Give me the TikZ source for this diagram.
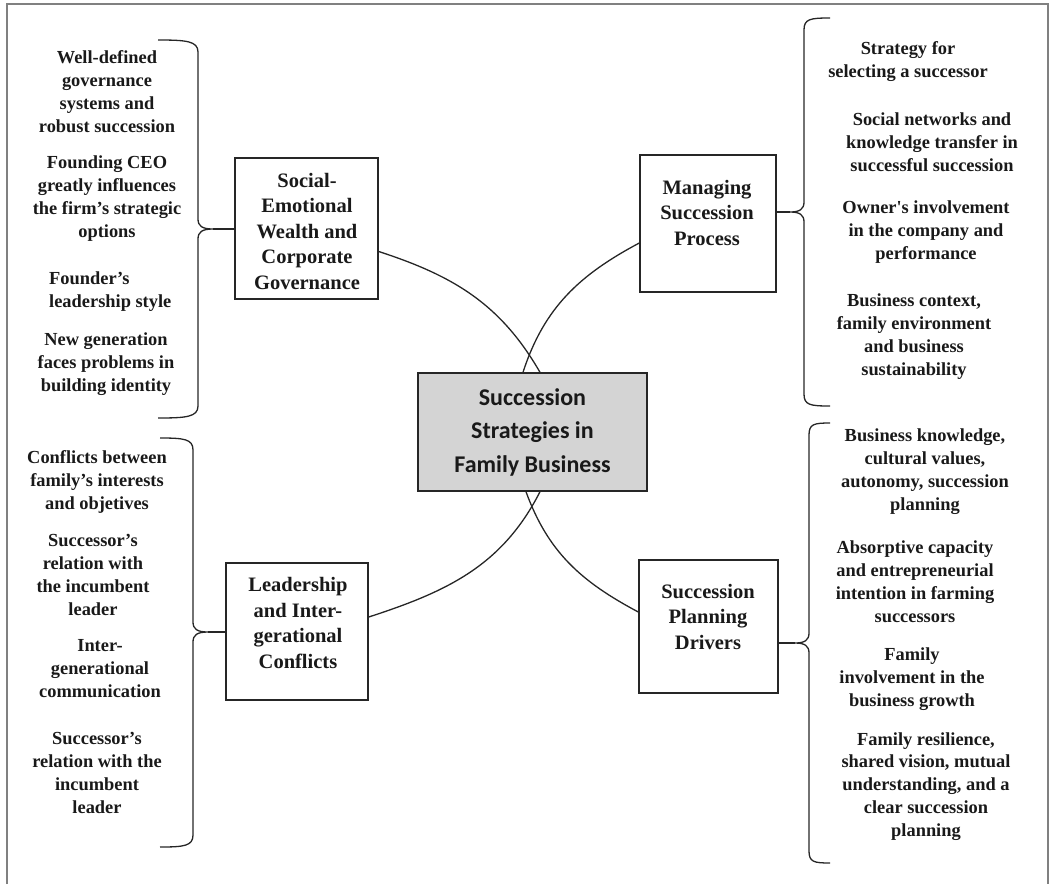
\documentclass[tikz,border=0pt]{standalone}
\usepackage{fontspec}
\setmainfont{Liberation Serif}
\newfontfamily\ctrfont{Carlito}
\begin{document}
\begin{tikzpicture}[x=1pt,y=1pt,
  item/.style={align=center, font=\fontsize{18.4}{22.7}\selectfont\bfseries, text=black!90, inner sep=0pt, anchor=base},
  itemleft/.style={item, align=left, anchor=base west},
  boxtext/.style={align=center, font=\fontsize{20.5}{25.5}\selectfont\bfseries, text=black!90, inner sep=0pt, anchor=base},
  box/.style={draw=black!85, line width=1.4pt, fill=white, inner sep=0pt},
  ctrbox/.style={draw=black!85, line width=1.4pt, fill=black!17, inner sep=0pt, align=center,
    font=\ctrfont\fontsize{24}{33.5}\selectfont\bfseries, text=black!90},
  link/.style={draw=black!85, line width=1.3pt},
  bracestyle/.style={draw=black!85, line width=1.3pt},
  frame/.style={draw=black!50, line width=1.6pt}]
\useasboundingbox (0,0) rectangle (1050,-884);
\draw[frame] (7,-884) -- (7,-4) -- (1048,-4) -- (1048,-884);

% central box
\node[ctrbox, minimum width=229pt, minimum height=118pt] (ctr) at (532.5,-432) {Succession\\Strategies in\\Family Business};

% four boxes (multi-line texts are placed by the baseline of their last line)
\node[box, minimum width=143pt, minimum height=141pt] (sew) at (306.5,-228.5) {};
\node[boxtext] (sewt) at (307,-289) {Social-\\Emotional\\Wealth and\\Corporate\\Governance};
\node[box, minimum width=136pt, minimum height=137pt] (msp) at (708,-223.5) {};
\node[boxtext] (mspt) at (707,-245) {Managing\\Succession\\Process};
\node[box, minimum width=142pt, minimum height=137pt] (lic) at (297,-631.5) {};
\node[boxtext] (lict) at (298,-668) {Leadership\\and Inter-\\gerational\\Conflicts};
\node[box, minimum width=139pt, minimum height=133pt] (spd) at (708.5,-626.5) {};
\node[boxtext] (spdt) at (708,-649) {Succession\\Planning\\Drivers};

% curved connectors
\draw[link] ([yshift=-23pt]sew.east) to[out=-18,in=120] ([xshift=7.5pt]ctr.north);
\draw[link] ([yshift=-19.5pt]msp.west) to[out=208,in=72] ([xshift=-9.5pt]ctr.north);
\draw[link] ([yshift=14.5pt]lic.east) to[out=18,in=-117] ([xshift=7.5pt]ctr.south);
\draw[link] ([yshift=14.5pt]spd.west) to[out=152,in=-70] ([xshift=-6.5pt]ctr.south);

% braces
\coordinate (sewtip) at (213,-229);
\draw[bracestyle] (158,-40) .. controls (186,-40) and (198,-41) .. (198,-52) -- (198,-219)
  .. controls (198,-226) and (202,-229) .. (sewtip)
  .. controls (202,-229) and (198,-232) .. (198,-239) -- (198,-406)
  .. controls (198,-417) and (186,-418) .. (158,-418);
\draw[link] (sewtip) -- (sewtip -| sew.west);

\coordinate (msptip) at (790,-212);
\draw[bracestyle] (830,-18) .. controls (810,-18) and (804,-19) .. (804,-30) -- (804,-202)
  .. controls (804,-209) and (800,-212) .. (msptip)
  .. controls (800,-212) and (804,-215) .. (804,-222) -- (804,-394)
  .. controls (804,-405) and (810,-406) .. (830,-406);
\draw[link] (msptip) -- (msptip -| msp.east);

\coordinate (lictip) at (208,-632);
\draw[bracestyle] (160,-438) .. controls (184,-438) and (193,-439) .. (193,-450) -- (193,-622)
  .. controls (193,-629) and (197,-632) .. (lictip)
  .. controls (197,-632) and (193,-635) .. (193,-642) -- (193,-835)
  .. controls (193,-846) and (184,-847) .. (160,-847);
\draw[link] (lictip) -- (lictip -| lic.west);

\coordinate (spdtip) at (795,-643);
\draw[bracestyle] (830,-423) .. controls (814,-423) and (809,-424) .. (809,-435) -- (809,-633)
  .. controls (809,-640) and (805,-643) .. (spdtip)
  .. controls (805,-643) and (809,-646) .. (809,-653) -- (809,-851)
  .. controls (809,-862) and (814,-863) .. (830,-863);
\draw[link] (spdtip) -- (spdtip -| spd.east);

% items: social-emotional wealth
\node[item] (a1) at (107,-132) {Well-defined\\governance\\systems and\\robust succession};
\node[item] (a2) at (107,-237) {Founding CEO\\greatly influences\\the firm’s strategic\\options};
\node[itemleft] (a3) at (49,-307) {Founder’s\\leadership style};
\node[item] (a4) at (106,-391) {New generation\\faces problems in\\building identity};

% items: managing succession process
\node[item] (b1) at (908,-77) {Strategy for\\selecting a successor};
\node[item] (b2) at (932,-171) {Social networks and\\knowledge transfer in\\successful succession};
\node[item] (b3) at (926,-259) {Owner\textquotesingle s involvement\\in the company and\\performance};
\node[item] (b4) at (914,-375) {Business context,\\family environment\\and business\\sustainability};

% items: leadership
\node[item] (c1) at (97,-509) {Conflicts between\\family’s interests\\and objetives};
\node[item] (c2) at (93,-615) {Successor’s\\relation with\\the incumbent\\leader};
\node[item] (c3) at (100,-697) {Inter-\\generational\\communication};
\node[item] (c4) at (97,-813) {Successor’s\\relation with the\\incumbent\\leader};

% items: succession planning drivers
\node[item] (d1) at (925,-510) {Business knowledge,\\cultural values,\\autonomy, succession\\planning};
\node[item] (d2) at (915,-622) {Absorptive capacity\\and entrepreneurial\\intention in farming\\successors};
\node[item] (d3) at (912,-706) {Family\\involvement in the\\business growth};
\node[item] (d4) at (926,-836) {Family resilience,\\shared vision, mutual\\understanding, and a\\clear succession\\planning};
\end{tikzpicture}
\end{document}
